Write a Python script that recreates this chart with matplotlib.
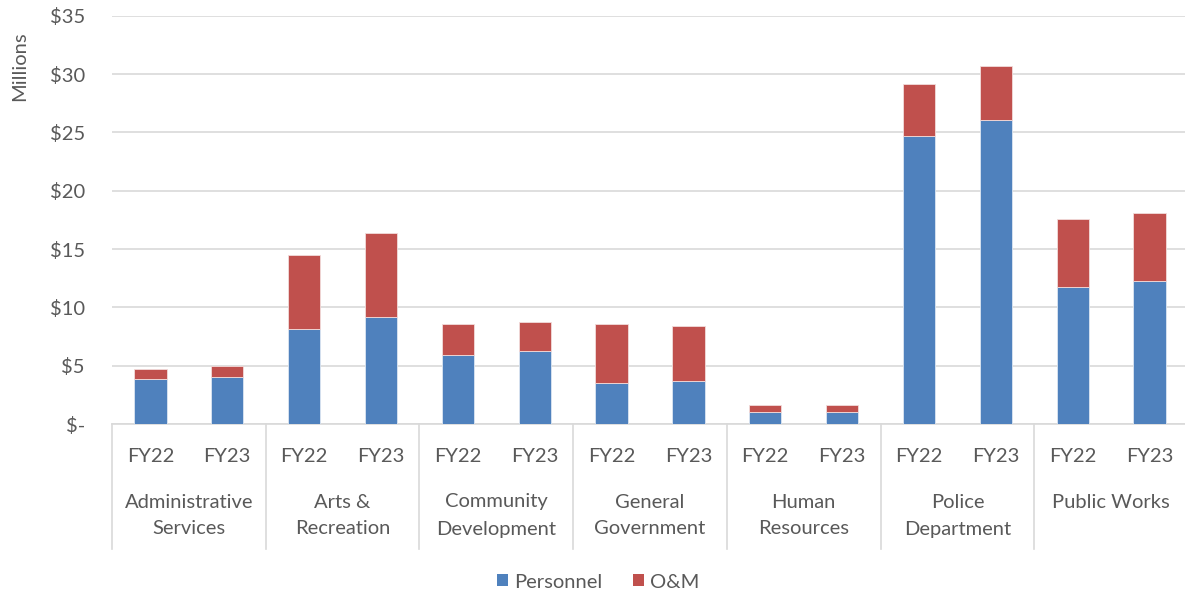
import matplotlib
matplotlib.use("Agg")
import matplotlib.pyplot as plt
import matplotlib.transforms as mtransforms
from matplotlib.patches import Patch

# Departments and fiscal years
departments = [
    "Administrative\nServices", "Arts &\nRecreation", "Community\nDevelopment",
    "General\nGovernment", "Human\nResources", "Police\nDepartment", "Public Works",
]
years = ["FY22", "FY23"]

# Spending in millions, ordered department by department, FY22 then FY23
personnel = [3.83, 4.00, 8.12, 9.15, 5.95, 6.30, 3.50, 3.70, 1.07, 1.07, 24.68, 26.06, 11.72, 12.24]
om = [0.86, 1.00, 6.35, 7.20, 2.60, 2.43, 5.05, 4.68, 0.52, 0.52, 4.49, 4.66, 5.87, 5.86]

y_ticks = [0, 5, 10, 15, 20, 25, 30, 35]
y_tick_labels = ["$-", "$5", "$10", "$15", "$20", "$25", "$30", "$35"]

BLUE = "#4F81BD"
RED = "#C0504D"
GRID = "#D9D9D9"
TEXT = "#595959"
FONT = "Lato"
FS = 14.5

W, H = 1185, 596
fig = plt.figure(figsize=(W / 100, H / 100), dpi=100)
left, right, bottom, top = 112, 1188, 424, 15.7
ax = fig.add_axes([left / W, (H - bottom) / H, (right - left) / W, (bottom - top) / H])

x = list(range(len(personnel)))
bar_w = 0.42
ax.bar(x, personnel, width=bar_w, color=BLUE, edgecolor="#DCE6F2", linewidth=0.6, zorder=3)
ax.bar(x, om, width=bar_w, bottom=personnel, color=RED, edgecolor="#F2DCDB", linewidth=0.6, zorder=3)

ax.set_xlim(-0.5, len(personnel) - 0.5)
ax.set_ylim(0, 35)
ax.set_yticks(y_ticks)
ax.set_yticklabels(y_tick_labels, fontsize=FS, color=TEXT, fontfamily=FONT)
ax.tick_params(axis="y", length=0, pad=19.5)
for lbl in ax.get_yticklabels():
    lbl.set_horizontalalignment("right")
ax.set_xticks([])
ax.grid(axis="y", color=GRID, linewidth=1.2, zorder=0)
for s in ["top", "right", "left"]:
    ax.spines[s].set_visible(False)
ax.spines["bottom"].set_color(GRID)
ax.spines["bottom"].set_linewidth(1.2)

# Multi-level category axis beneath the bars
trans = mtransforms.blended_transform_factory(ax.transData, fig.transFigure)
def fy(py):
    return (H - py) / H

for i, xi in enumerate(x):
    ax.text(xi, fy(456), years[i % 2], transform=trans, ha="center", va="center",
            fontsize=FS, color=TEXT, fontfamily=FONT)

for g, name in enumerate(departments):
    cx = 2 * g + 0.5
    lines = name.split("\n")
    for k, line in enumerate(lines):
        ax.text(cx, fy(502 + 27 * k), line, transform=trans, ha="center", va="center",
                fontsize=FS, color=TEXT, fontfamily=FONT)

for b in range(len(departments) + 1):
    xb = 2 * b - 0.5
    ax.plot([xb, xb], [fy(424), fy(549)], transform=trans, color=GRID,
            linewidth=1.2, clip_on=False)

# Display-unit label
fig.text(20 / W, fy(66), "Millions", rotation=90, ha="center", va="center",
         fontsize=FS, color=TEXT, fontfamily=FONT)

handles = [Patch(facecolor=BLUE, label="Personnel"), Patch(facecolor=RED, label="O&M")]
fig.legend(handles=handles, loc="center", bbox_to_anchor=(598 / W, fy(582)), ncol=2,
           frameon=False, handlelength=0.55, handleheight=0.55, handletextpad=0.3,
           columnspacing=1.5, prop={"family": FONT, "size": FS}, labelcolor=TEXT)

fig.savefig("out.png", dpi=100, facecolor="white")
